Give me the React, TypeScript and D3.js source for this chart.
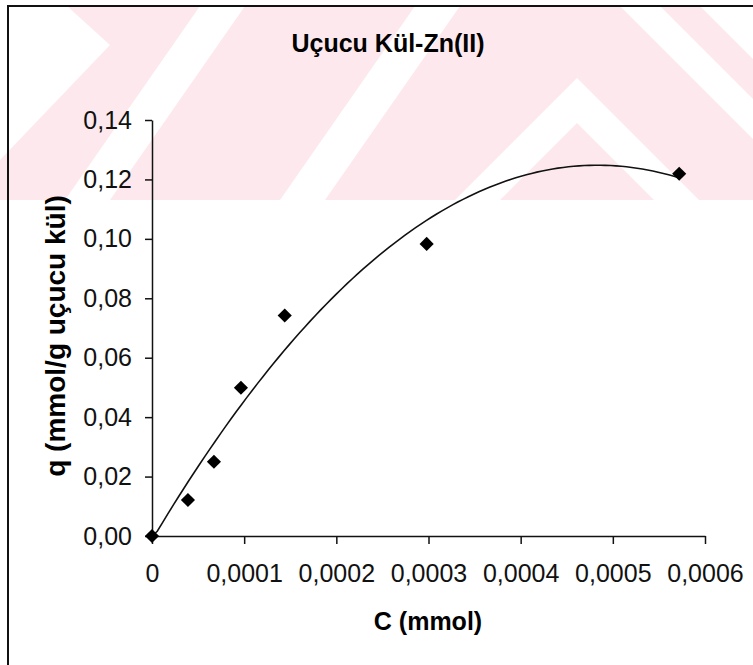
import React, { useEffect, useRef } from 'react'
import * as d3 from 'd3'

// Zn(II) on fly ash: equilibrium concentration vs. adsorbed amount
const concentration = [0, 0.000039, 0.0000672, 0.0000965, 0.000144, 0.000298, 0.000572]
const adsorbed = [0, 0.0121, 0.025, 0.0499, 0.0742, 0.0983, 0.1219]

const xTicks = [0, 0.0001, 0.0002, 0.0003, 0.0004, 0.0005, 0.0006]
const yTicks = [0, 0.02, 0.04, 0.06, 0.08, 0.1, 0.12, 0.14]

const title = 'Uçucu Kül-Zn(II)'
const xTitle = 'C (mmol)'
const yTitle = 'q (mmol/g uçucu kül)'

// background watermark pieces (white cut-outs over the pink band)
const watermarkCuts = [
  [[0, 6], [67, 6], [110, 45], [0, 160]],
  [[200, 6], [245, 6], [110, 200], [65, 200]],
  [[415, 6], [460, 6], [325, 200], [280, 200]],
  [[455, 200], [577, 78], [699, 200], [654, 200], [577, 123], [500, 200]],
  [[620, 6], [660, 6], [753, 99], [753, 139]],
  [[700, 6], [753, 6], [753, 59]],
]

// least squares polynomial of order 2, like an Excel trendline
const fitQuadratic = (xs, ys) => {
  const s = 1e4
  const t = xs.map(x => x * s)
  const sum = f => d3.sum(t.map((v, i) => f(v, ys[i])))
  const A = [
    [t.length, sum(v => v), sum(v => v * v)],
    [sum(v => v), sum(v => v * v), sum(v => v ** 3)],
    [sum(v => v * v), sum(v => v ** 3), sum(v => v ** 4)],
  ]
  const b = [sum((v, y) => y), sum((v, y) => v * y), sum((v, y) => v * v * y)]
  // gaussian elimination
  for (let i = 0; i < 3; i++) {
    for (let k = i + 1; k < 3; k++) {
      const f = A[k][i] / A[i][i]
      for (let j = i; j < 3; j++) A[k][j] -= f * A[i][j]
      b[k] -= f * b[i]
    }
  }
  const c = [0, 0, 0]
  for (let i = 2; i >= 0; i--) {
    let r = b[i]
    for (let j = i + 1; j < 3; j++) r -= A[i][j] * c[j]
    c[i] = r / A[i][i]
  }
  return x => c[0] + c[1] * x * s + c[2] * (x * s) ** 2
}

const comma = (d, n) => (d === 0 && n === 4 ? '0' : d3.format(`.${n}f`)(d).replace('.', ','))

export default function App() {
  const ref = useRef(null)

  useEffect(() => {
    const width = 753
    const height = 665
    const svg = d3.select(ref.current)
    svg.selectAll('*').remove()

    const x = d3.scaleLinear().domain([0, 0.0006]).range([152, 705])
    const y = d3.scaleLinear().domain([0, 0.14]).range([536, 120])

    // watermark
    svg.append('rect')
      .attr('x', 0).attr('y', 6)
      .attr('width', width).attr('height', 194)
      .attr('fill', '#fde9ed')
    svg.selectAll('.cut')
      .data(watermarkCuts)
      .enter().append('polygon')
      .attr('class', 'cut')
      .attr('points', d => d.map(p => p.join(',')).join(' '))
      .attr('fill', '#fff')

    // chart frame
    svg.append('rect')
      .attr('x', 8).attr('y', 6)
      .attr('width', width + 20).attr('height', height + 20)
      .attr('fill', 'none')
      .attr('stroke', '#111')
      .attr('stroke-width', 2)

    const font = '"Liberation Sans", Arial, sans-serif'

    svg.append('text')
      .attr('x', 388).attr('y', 52)
      .attr('text-anchor', 'middle')
      .attr('font-family', font)
      .attr('font-weight', 'bold')
      .attr('font-size', 25)
      .text(title)

    // axes
    const yAxis = svg.append('g')
      .attr('transform', 'translate(152,0)')
      .call(d3.axisLeft(y).tickValues(yTicks).tickFormat(d => comma(d, 2))
        .tickSize(7).tickSizeOuter(0).tickPadding(13))
    const xAxis = svg.append('g')
      .attr('transform', 'translate(0,536)')
      .call(d3.axisBottom(x).tickValues(xTicks).tickFormat(d => comma(d, 4))
        .tickSize(8).tickSizeOuter(0).tickPadding(20))

    ;[xAxis, yAxis].forEach(g => {
      g.select('.domain').attr('stroke', '#111').attr('stroke-width', 1.5)
      g.selectAll('.tick line').attr('stroke', '#111').attr('stroke-width', 1.5)
      g.selectAll('text')
        .attr('font-family', font)
        .attr('font-size', 25)
        .attr('fill', '#111')
    })

    svg.append('text')
      .attr('x', 428).attr('y', 630)
      .attr('text-anchor', 'middle')
      .attr('font-family', font)
      .attr('font-weight', 'bold')
      .attr('font-size', 25)
      .text(xTitle)

    svg.append('text')
      .attr('transform', 'translate(65,336) rotate(-90)')
      .attr('text-anchor', 'middle')
      .attr('font-family', font)
      .attr('font-weight', 'bold')
      .attr('font-size', 28)
      .text(yTitle)

    // trendline
    const fit = fitQuadratic(concentration, adsorbed)
    const xs = d3.range(0, 101).map(i => (i / 100) * d3.max(concentration))
    svg.append('path')
      .datum(xs)
      .attr('fill', 'none')
      .attr('stroke', '#111')
      .attr('stroke-width', 1.6)
      .attr('d', d3.line().x(d => x(d)).y(d => y(Math.max(0, fit(d)))))

    // points
    svg.selectAll('.pt')
      .data(concentration)
      .enter().append('path')
      .attr('class', 'pt')
      .attr('d', d3.symbol(d3.symbolSquare, 100))
      .attr('transform', (d, i) => `translate(${x(d)},${y(adsorbed[i])}) rotate(45)`)
      .attr('fill', '#000')
  }, [])

  return (
    <svg ref={ref} width={753} height={665}
      style={{ position: 'absolute', left: 0, top: 0, background: '#fff' }} />
  )
}
